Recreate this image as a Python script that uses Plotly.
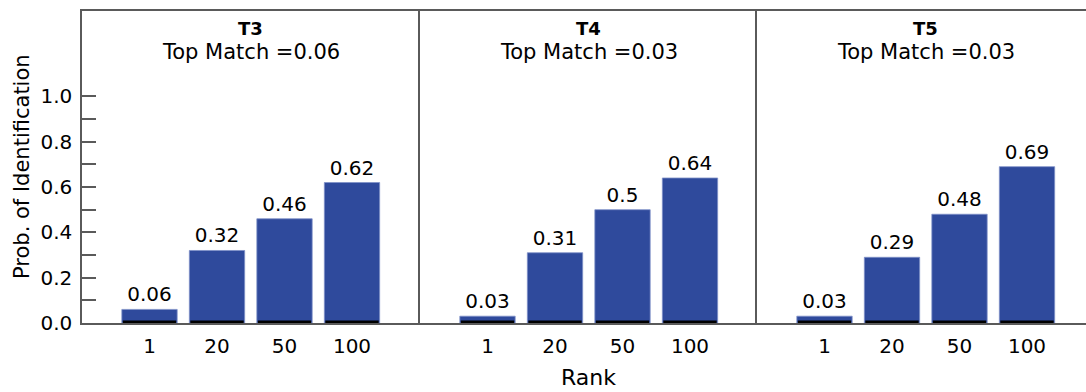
import plotly.graph_objects as go

ranks = ["1", "20", "50", "100"]
panel_names = ["T3", "T4", "T5"]
top_match = [0.06, 0.03, 0.03]
t3_values = [0.06, 0.32, 0.46, 0.62]
t4_values = [0.03, 0.31, 0.50, 0.64]
t5_values = [0.03, 0.29, 0.48, 0.69]
y_tick_vals = [0.0, 0.1, 0.2, 0.3, 0.4, 0.5, 0.6, 0.7, 0.8, 0.9, 1.0]
y_tick_text = ["0.0", "", "0.2", "", "0.4", "", "0.6", "", "0.8", "", "1.0"]

series = [t3_values, t4_values, t5_values]

FONT = "DejaVu Sans"
BAR_COLOR = "#2F4A9C"
LINE_COLOR = "#5a5a5a"
STRIP = 0.011  # thin black base strip drawn at bottom of each bar (style)

W, H = 1086, 392
L, R, T, B = 82, 0, 11, 69
pw = W - L - R
# panel pixel edges
edges = [82, 420, 757, 1086]
domains = [[(edges[i] - L) / pw, (edges[i + 1] - L) / pw] for i in range(3)]
unit = 67.5
ranges = [[-1, -1 + (edges[i + 1] - edges[i]) / unit] for i in range(3)]

fig = go.Figure()
xpos = list(range(len(ranks)))
for i, vals in enumerate(series):
    xa = "x" if i == 0 else f"x{i+1}"
    ya = "y" if i == 0 else f"y{i+1}"
    fig.add_trace(go.Bar(
        x=xpos, y=vals, xaxis=xa, yaxis=ya,
        width=0.82,
        marker=dict(color=BAR_COLOR, line=dict(color="#7f90c8", width=0.8)),
        text=[f"{v:g}" for v in vals],
        textposition="outside",
        textfont=dict(family=FONT, size=20, color="black"),
        cliponaxis=False,
        showlegend=False,
    ))
    fig.add_trace(go.Bar(
        x=xpos, y=[STRIP] * len(vals), xaxis=xa, yaxis=ya,
        width=0.79,
        marker=dict(color="black", line=dict(width=0)),
        hoverinfo="skip",
        showlegend=False,
    ))

layout = dict(
    width=W, height=H,
    margin=dict(l=L, r=R, t=T, b=B),
    paper_bgcolor="white", plot_bgcolor="white",
    barmode="overlay",
    font=dict(family=FONT, color="black"),
)
for i in range(3):
    sx = "" if i == 0 else str(i + 1)
    layout[f"xaxis{sx}"] = dict(
        domain=domains[i], range=ranges[i],
        tickvals=xpos, ticktext=ranks,
        ticks="", showgrid=False, zeroline=False,
        showline=True, linecolor=LINE_COLOR, linewidth=1.5, mirror=True,
        tickfont=dict(family=FONT, size=20, color="black"),
        ticklabelstandoff=4,
        anchor="y" if i == 0 else f"y{i+1}",
    )
    yd = dict(
        domain=[0, 1], range=[0, 1.377],
        showgrid=False, zeroline=False,
        showline=True, linecolor=LINE_COLOR, linewidth=1.5,
        anchor="x" if i == 0 else f"x{i+1}",
    )
    if i == 0:
        yd.update(tickvals=y_tick_vals, ticktext=y_tick_text, ticks="inside",
                  ticklen=14, tickwidth=1.5, tickcolor=LINE_COLOR,
                  tickfont=dict(family=FONT, size=20, color="black"),
                  ticklabelstandoff=4)
    else:
        yd.update(showticklabels=False, ticks="")
    layout[f"yaxis{sx}"] = yd

annotations = []
for i in range(3):
    xr = "x" if i == 0 else f"x{i+1}"
    annotations.append(dict(
        x=1.5, xref=xr, y=1 - 17 / 312, yref="paper",
        text=f"<b>{panel_names[i]}</b>", showarrow=False,
        xanchor="center", yanchor="middle",
        font=dict(family=FONT, size=18, color="black")))
    annotations.append(dict(
        x=1.5, xref=xr, y=1 - 41 / 312, yref="paper",
        text=f"Top Match ={top_match[i]:g}", showarrow=False,
        xanchor="center", yanchor="middle",
        font=dict(family=FONT, size=21, color="black")))
annotations.append(dict(
    x=1.5, xref="x2", y=(323 - 377) / 312, yref="paper",
    text="Rank", showarrow=False, xanchor="center", yanchor="middle",
    font=dict(family=FONT, size=22, color="black")))
annotations.append(dict(
    x=(22 - L) / pw, xref="paper", y=0.5, yref="paper",
    text="Prob. of Identification", showarrow=False, textangle=-90,
    xanchor="center", yanchor="middle",
    font=dict(family=FONT, size=21, color="black")))
layout["annotations"] = annotations

fig.update_layout(**layout)
fig.write_html(
    "out.html",
    config={"displayModeBar": False},
    post_script="document.body.style.margin='0';document.body.style.overflow='hidden';",
)
